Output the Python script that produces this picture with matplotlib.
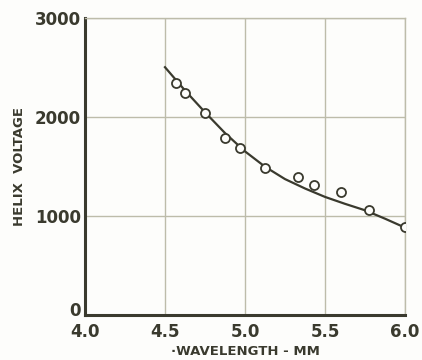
import matplotlib
matplotlib.use('Agg')
import matplotlib.pyplot as plt
from matplotlib.transforms import ScaledTranslation

# measured points (open circles)
wavelength = [4.57, 4.625, 4.75, 4.875, 4.97, 5.125, 5.33, 5.43, 5.6, 5.775, 6.0]
voltage = [2340, 2240, 2040, 1790, 1680, 1480, 1395, 1315, 1235, 1060, 885]

# smooth fitted curve
curve_x = [4.5, 4.625, 4.75, 4.875, 5.0, 5.125, 5.25, 5.375, 5.5, 5.625, 5.75, 5.875, 6.0]
curve_y = [2500, 2265, 2045, 1835, 1650, 1495, 1370, 1275, 1190, 1120, 1055, 970, 880]

x_ticks = [4.0, 4.5, 5.0, 5.5, 6.0]
x_tick_labels = ['4.0', '4.5', '5.0', '5.5', '6.0']
y_ticks = [0, 1000, 2000, 3000]
y_tick_labels = ['0', '1000', '2000', '3000']

ink = '#3a3a2e'
grid_col = '#bdbcaa'
paper = '#fdfdfb'

fig = plt.figure(figsize=(4.22, 3.6), dpi=100, facecolor=paper)
ax = fig.add_axes([0.2014, 0.1258, 0.7583, 0.825])
ax.set_facecolor(paper)

ax.plot(curve_x, curve_y, color=ink, lw=1.6, zorder=3)
ax.plot(wavelength, voltage, 'o', mfc=paper, mec=ink, mew=1.3, ms=6.5, zorder=4)

ax.set_xlim(4.0, 6.0)
ax.set_ylim(0, 3000)
ax.set_xticks(x_ticks)
ax.set_xticklabels(x_tick_labels)
ax.set_yticks(y_ticks)
ax.set_yticklabels(y_tick_labels)
ax.grid(True, color=grid_col, lw=1.0)
ax.set_axisbelow(True)

ax.tick_params(length=0, colors=ink)
ax.tick_params(axis='y', pad=3)
ax.tick_params(axis='x', pad=6)
for lab in ax.get_xticklabels() + ax.get_yticklabels():
    lab.set_fontweight('bold')
    lab.set_fontsize(12)
    lab.set_color(ink)

# lift the "0" a little so it clears "4.0"
zero = ax.get_yticklabels()[0]
zero.set_transform(zero.get_transform() + ScaledTranslation(0, 4 / 72, fig.dpi_scale_trans))

for side in ['left', 'bottom']:
    ax.spines[side].set_color(ink)
    ax.spines[side].set_linewidth(2.2)
for side in ['top', 'right']:
    ax.spines[side].set_color(grid_col)
    ax.spines[side].set_linewidth(1.0)

ax.set_ylabel('HELIX  VOLTAGE', fontsize=9.5, fontweight='bold', color=ink, labelpad=6)
ax.set_xlabel('\u00b7WAVELENGTH - MM', fontsize=9.5, fontweight='bold', color=ink, labelpad=3)

fig.savefig('out.png', dpi=100, facecolor=fig.get_facecolor())
